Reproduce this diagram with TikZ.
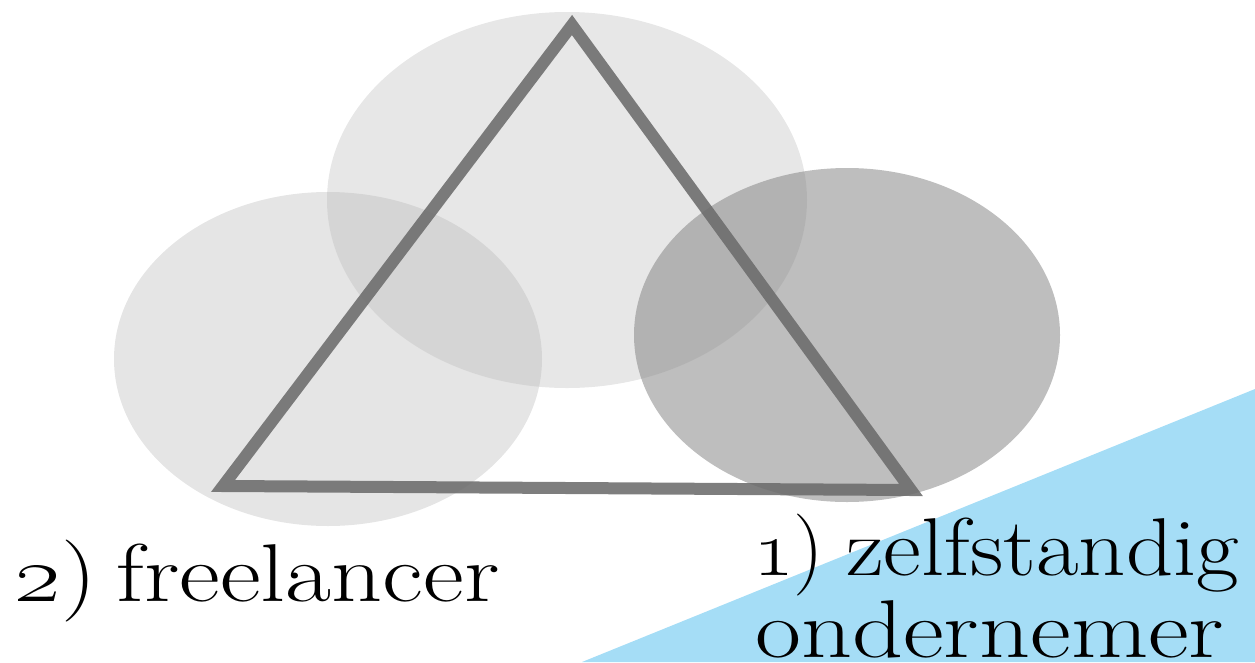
\RequirePackage{fix-cm}
\documentclass[tikz,border=0pt]{standalone}
\begin{document}
\begin{tikzpicture}[x=1pt,y=-1pt,
  blob/.style={draw=none},
  tri/.style={draw={rgb,255:red,108;green,108;blue,108},draw opacity=0.88,line width=12pt,line join=miter},
  lbl/.style={anchor=base west,inner sep=0pt,font=\fontsize{82}{96}\selectfont}]
\useasboundingbox (0,0) rectangle (1255,662);
\definecolor{bluebg}{RGB}{165,221,246}
\fill[bluebg] (582,662) -- (1255,389) -- (1255,662) -- cycle;
% ellipses
\fill[blob,fill={rgb,255:red,229;green,229;blue,229}] (328,359) ellipse [x radius=214, y radius=167];
\fill[blob,fill={rgb,255:red,186;green,186;blue,186},fill opacity=0.35] (567,200) ellipse [x radius=240, y radius=188];
\fill[blob,fill={rgb,255:red,135;green,135;blue,135},fill opacity=0.54] (847,335) ellipse [x radius=213, y radius=167];
% triangle
\coordinate (A) at (572,25);
\coordinate (B) at (223,486);
\coordinate (C) at (911,490);
\draw[tri] (A) -- (B) -- (C) -- cycle;
% labels
\node[lbl] (free) at (14,601) {\scalebox{1.22}[1]{\oldstylenums{2})\hspace{0.2em}freelancer}};
\node[lbl] (zelf) at (753,575) {\scalebox{1.05}[1]{\oldstylenums{1})}\hspace{22pt}\scalebox{1.13}[1]{zelfstandig}};
\node[lbl] (onder) at (755,657) {\scalebox{1.22}[1]{ondernemer}};
\end{tikzpicture}
\end{document}
